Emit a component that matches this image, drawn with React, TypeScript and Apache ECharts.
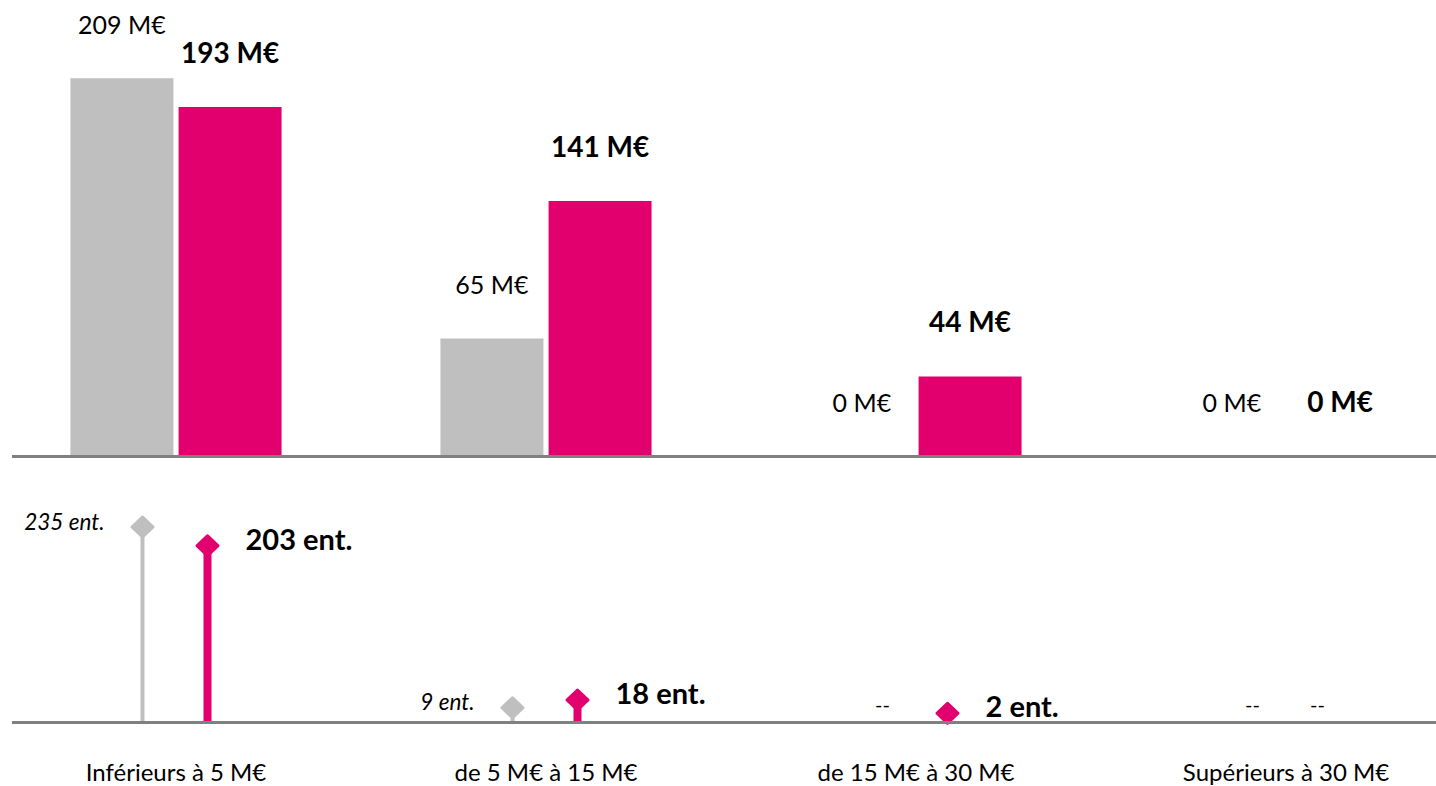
import React, { useEffect, useRef } from 'react';
import * as echarts from 'echarts';

const categories = ['Inférieurs à 5 M€', 'de 5 M€ à 15 M€', 'de 15 M€ à 30 M€', 'Supérieurs à 30 M€'];
const montantGris = [209, 65, 0, 0];
const montantRose = [193, 141, 44, 0];
const entGris: (number | null)[] = [235, 9, null, null];
const entRose: (number | null)[] = [203, 18, 2, null];

const GREY = '#BFBFBF';
const PINK = '#E2006F';
const AXIS = '#808080';
const FONT = 'Lato';

function stemData(arr: (number | null)[]) {
  return arr.map((v) => (v == null ? { value: 0, label: { show: true } } : v));
}
function dotData(arr: (number | null)[]) {
  const out: [number, number][] = [];
  arr.forEach((v, i) => {
    if (v != null) out.push([i, v]);
  });
  return out;
}

export default function App() {
  const ref = useRef<HTMLDivElement>(null);
  useEffect(() => {
    if (!ref.current) return;
    const chart = echarts.init(ref.current, null, { renderer: 'svg' });
    const dashLabel = {
      show: false,
      formatter: '--',
      position: 'top',
      distance: 7,
      fontSize: 20,
      color: '#000',
      fontFamily: FONT,
    };
    chart.setOption({
      animation: false,
      textStyle: { fontFamily: FONT },
      grid: [
        { left: -9, width: 1480, top: 4, height: 452, outerBoundsMode: 'none', containLabel: false },
        { left: -9, width: 1480, top: 481, height: 240, outerBoundsMode: 'none', containLabel: false },
      ],
      xAxis: [
        {
          type: 'category',
          data: categories,
          gridIndex: 0,
          axisLine: { show: false },
          axisTick: { show: false },
          axisLabel: { show: false },
        },
        {
          type: 'category',
          data: categories,
          gridIndex: 1,
          axisLine: { show: false },
          axisTick: { show: false },
          axisLabel: { margin: 38, fontSize: 24, color: '#000', fontFamily: FONT, interval: 0 },
        },
      ],
      yAxis: [
        { type: 'value', gridIndex: 0, min: 0, max: 250, show: false },
        { type: 'value', gridIndex: 1, min: 0, max: 300, show: false },
        { type: 'value', gridIndex: 1, min: 0, max: 288, show: false },
      ],
      graphic: [
        { type: 'line', z: 10, shape: { x1: 12, y1: 456.5, x2: 1436, y2: 456.5 }, style: { stroke: AXIS, lineWidth: 3 } },
        { type: 'line', z: 10, shape: { x1: 12, y1: 722.5, x2: 1436, y2: 722.5 }, style: { stroke: AXIS, lineWidth: 3 } },
      ],
      series: [
        {
          type: 'bar',
          xAxisIndex: 0,
          yAxisIndex: 0,
          barWidth: 103,
          barGap: '5%',
          data: montantGris,
          itemStyle: { color: GREY },
          label: {
            show: true,
            position: 'top',
            distance: 42,
            formatter: '{c} M€',
            fontSize: 25,
            color: '#000',
            fontFamily: FONT,
          },
        },
        {
          type: 'bar',
          xAxisIndex: 0,
          yAxisIndex: 0,
          barWidth: 103,
          barGap: '5%',
          data: montantRose,
          itemStyle: { color: PINK },
          label: {
            show: true,
            position: 'top',
            distance: 41,
            formatter: '{c} M€',
            fontSize: 28,
            fontWeight: 'bold',
            color: '#000',
            fontFamily: FONT,
          },
        },
        {
          type: 'bar',
          xAxisIndex: 1,
          yAxisIndex: 1,
          barWidth: 4,
          barGap: '1475%',
          data: stemData(entGris),
          itemStyle: { color: GREY },
          label: dashLabel,
        },
        {
          type: 'bar',
          xAxisIndex: 1,
          yAxisIndex: 2,
          barWidth: 8,
          barGap: '1475%',
          data: stemData(entRose),
          itemStyle: { color: PINK },
          label: dashLabel,
        },
        {
          type: 'scatter',
          xAxisIndex: 1,
          yAxisIndex: 1,
          z: 5,
          symbol: 'diamond',
          symbolSize: [21, 20],
          symbolOffset: [-33.5, -6],
          data: dotData(entGris),
          itemStyle: { color: GREY, borderColor: GREY, borderWidth: 3, borderJoin: 'round', opacity: 1 },
          label: {
            show: true,
            position: 'left',
            distance: 26,
            offset: [0, -6],
            formatter: (p: any) => `${p.value[1]} ent.`,
            fontSize: 22.5,
            fontStyle: 'italic',
            color: '#000',
            fontFamily: FONT,
          },
        },
        {
          type: 'scatter',
          xAxisIndex: 1,
          yAxisIndex: 2,
          z: 5,
          symbol: 'diamond',
          symbolSize: [21, 20],
          symbolOffset: [31.5, -6],
          data: dotData(entRose),
          itemStyle: { color: PINK, borderColor: PINK, borderWidth: 3, borderJoin: 'round', opacity: 1 },
          label: {
            show: true,
            position: 'right',
            distance: 26,
            offset: [0, -7.5],
            formatter: (p: any) => `${p.value[1]} ent.`,
            fontSize: 29,
            fontWeight: 'bold',
            color: '#000',
            fontFamily: FONT,
          },
        },
      ],
    });
    return () => chart.dispose();
  }, []);
  return (
    <div
      ref={ref}
      style={{ position: 'fixed', left: 0, top: 0, width: 1436, height: 786, background: '#fff' }}
    />
  );
}
